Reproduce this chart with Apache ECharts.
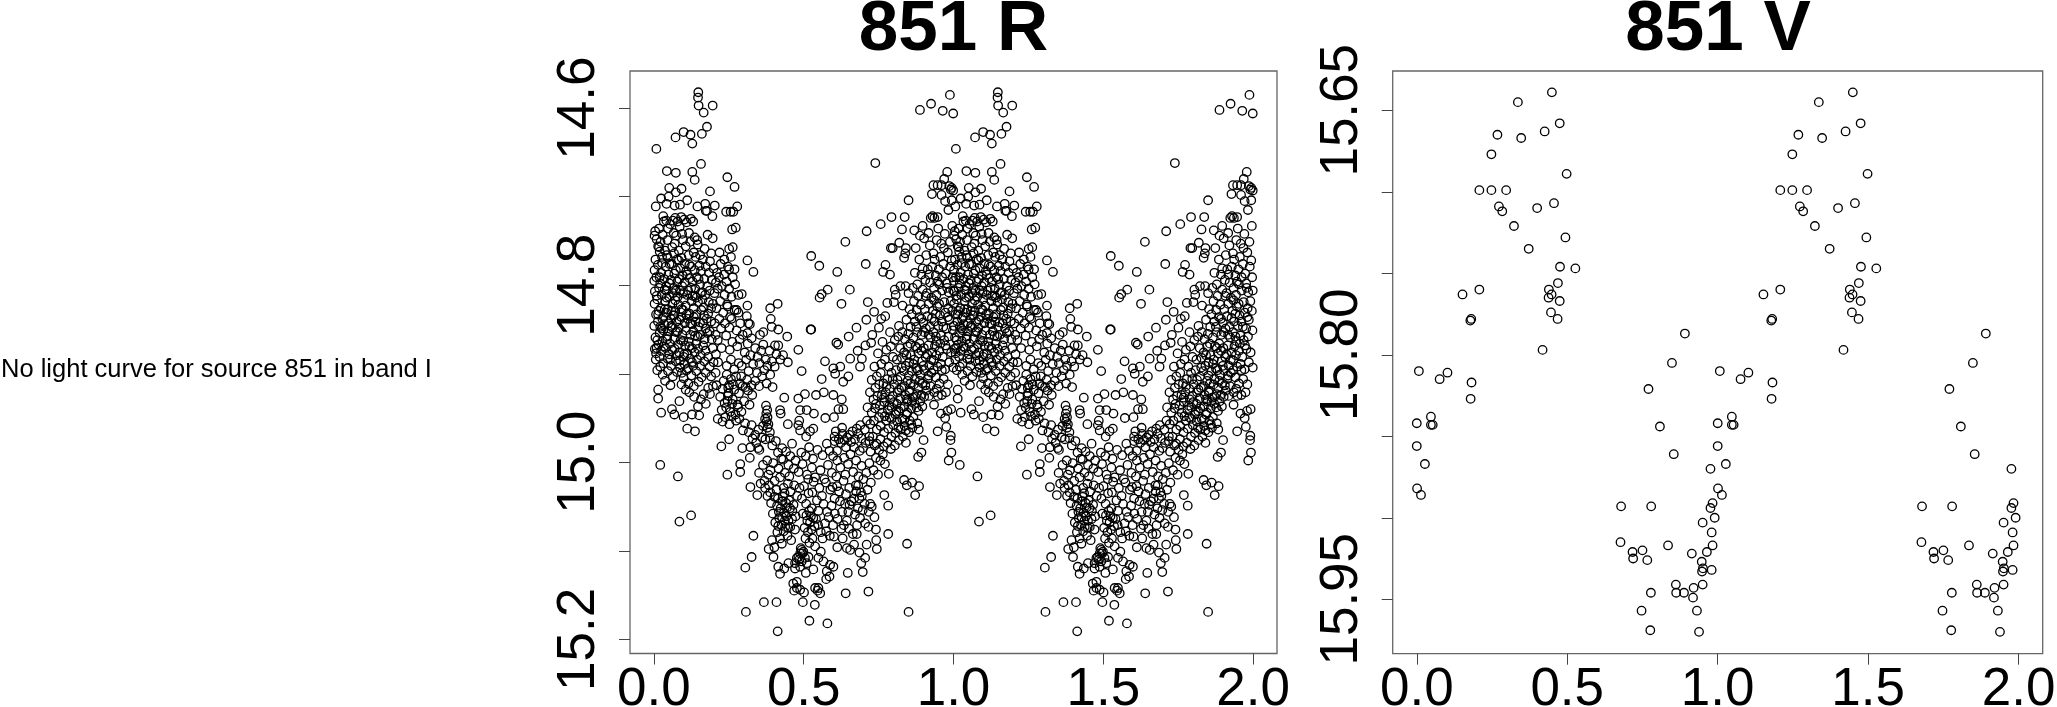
<!DOCTYPE html>
<html><head><meta charset="utf-8">
<style>html,body{margin:0;padding:0;background:#fff}#c{width:2057px;height:707px}</style>
<script src="https://cdn.jsdelivr.net/npm/echarts@6/dist/echarts.min.js"></script>
</head><body><div id="c"></div>
<script>
const noDataNote = "No light curve for source 851 in band I";
const titleR = "851 R";
const titleV = "851 V";
const phaseTicks = [0, 0.5, 1, 1.5, 2];
const rTicks = [14.6, 14.7, 14.8, 14.9, 15.0, 15.1, 15.2];
const rLabels = [14.6, 14.8, 15.0, 15.2];
const vTicks = [15.65, 15.70, 15.75, 15.80, 15.85, 15.90, 15.95];
const vLabels = [15.65, 15.80, 15.95];

// phase, magnitude for one cycle; the plot shows the cycle twice
const vCycle = [[.449,15.639],[.336,15.645],[.475,15.658],[.425,15.663],[.268,15.665],[.347,15.667],[.248,15.677],[.498,15.689],[.208,15.699],[.248,15.699],[.297,15.699],[.456,15.707],[.273,15.709],[.400,15.710],[.284,15.712],[.323,15.721],[.494,15.728],[.372,15.735],[.476,15.746],[.527,15.747],[.469,15.756],[.208,15.760],[.439,15.760],[.152,15.763],[.448,15.763],[.438,15.765],[.475,15.767],[.446,15.774],[.181,15.778],[.178,15.779],[.468,15.778],[.418,15.797],[.007,15.810],[.102,15.811],[.076,15.815],[.182,15.817],[.179,15.827],[.047,15.838],[.000,15.842],[.047,15.843],[.053,15.843],[.000,15.856],[.027,15.867],[.001,15.882],[.014,15.886],
[.891,15.787],[.848,15.805],[.770,15.821],[.808,15.844],[.854,15.861],[.976,15.870],[.679,15.893],[.779,15.893],[.983,15.891],[.976,15.894],[.990,15.900],[.950,15.903],[.980,15.909],[.677,15.915],[.835,15.917],[.750,15.920],[.717,15.921],[.983,15.917],[.964,15.921],[.914,15.922],[.719,15.925],[.766,15.926],[.947,15.927],[.951,15.931],[.948,15.933],[.980,15.932],[.861,15.941],[.950,15.941],[.920,15.943],[.862,15.946],[.888,15.946],[.778,15.946],[.918,15.949],[.747,15.957],[.931,15.957],[.776,15.969],[.938,15.970]];

const rSparse = [[.148,14.582],[.147,14.588],[.149,14.597],[.196,14.597],[.166,14.605],[.177,14.621],[.160,14.629],[.099,14.627],[.122,14.630],[.072,14.633],[.128,14.640],[.008,14.646],[.157,14.663],[.043,14.671],[.073,14.673],[.128,14.672],[.136,14.681],[.245,14.678],[.269,14.689],[.187,14.694],[.092,14.691],[.051,14.690],[.024,14.702],[.073,14.695],[.049,14.700],[.042,14.708],[.006,14.711],[.069,14.710],[.087,14.709],[.111,14.704],[.145,14.711],[.171,14.708],[.203,14.710],[.278,14.711],[.173,14.716],[.177,14.716],[.195,14.722],[.241,14.717],[.256,14.717],[.265,14.717],[.261,14.737],[.273,14.735],[.312,14.772],[.332,14.785],
[.988,14.585],[.925,14.595],[.888,14.602],[.964,14.603],[.999,14.606],[.739,14.662],[.979,14.672],[.969,14.680],[.933,14.687],[.947,14.687],[.960,14.687],[.986,14.688],[.994,14.690],[.999,14.693],[.991,14.692],[.928,14.697],[.960,14.698],[.972,14.705],[.994,14.704],[.850,14.704],[.983,14.715],[.793,14.723],[.837,14.723],[.930,14.722],[.936,14.724],[.924,14.724],[.947,14.723],[.757,14.731],[.828,14.737],[.710,14.739],[.869,14.738],[.897,14.733],[.888,14.744],[.639,14.751],[.819,14.752],[.791,14.758],[.797,14.758],[.841,14.758],[.839,14.764],[.835,14.769],[.874,14.758],[.525,14.767],[.552,14.778],[.612,14.785],[.707,14.776],[.773,14.777],[.765,14.785],[.788,14.788],[.580,14.805],[.560,14.810],[.553,14.814],[.654,14.805],[.626,14.821],[.714,14.819],[.735,14.830],[.779,14.820],[.801,14.819],[.804,14.805],[.807,14.811],[.823,14.801],[.840,14.801],[.850,14.809],[.830,14.823],[.709,14.839],[.759,14.838],[.676,14.848],[.751,14.848],[.525,14.850],[.650,14.858],[.729,14.856],[.772,14.835],[.609,14.865],[.615,14.867],[.725,14.865],[.706,14.868],[.680,14.874],
[.413,14.821],[.388,14.826],[.390,14.838],[.393,14.847],[.415,14.850],[.445,14.858],[.365,14.853],[.354,14.856],[.523,14.850],[.482,14.873],[.404,14.868],[.415,14.868],[.365,14.867],[.326,14.860],[.315,14.843],[.320,14.844],[.310,14.835],[.312,14.823],[.276,14.828],[.282,14.831],[.293,14.810],[.282,14.811],[.271,14.799],
[.493,14.897],[.571,14.886],[.560,14.906],[.599,14.894],[.622,14.892],[.605,14.900],[.688,14.892],[.694,14.883],[.655,14.883],[.649,14.903],[.632,14.909],[.482,14.928],[.504,14.923],[.541,14.924],[.567,14.921],[.599,14.924],[.627,14.929],[.396,14.915],[.435,14.927],[.421,14.941],[.423,14.945],[.447,14.957],[.488,14.941],[.510,14.941],[.534,14.945],[.485,14.953],[.482,14.958],[.488,14.964],[.572,14.950],[.601,14.949],[.616,14.940],[.632,14.940],[.532,14.962],[.521,14.965],[.508,14.971],[.628,14.961],[.607,14.965],
[.021,15.003],[.080,15.016],[.085,15.067],[.124,15.060],[.332,15.083],[.326,15.107],[.305,15.119],[.307,15.169],[.367,15.158],[.409,15.158],[.413,15.191],[.519,15.179],[.579,15.182],[.497,15.158],[.537,15.161],[.640,15.148],[.716,15.146],[.850,15.169],[.845,15.092],[.782,15.081],[.782,15.049],[.769,15.037],[.872,15.037],[.835,15.020],[.844,15.026],[.862,15.023],[.885,15.027],[.784,15.013],[.882,14.994],[.893,14.989],[.900,14.975],[.947,14.965],[.245,15.014],[.288,15.011],[.288,15.002],[.322,15.028],[.345,15.037],[.225,14.982],[.251,14.974],[.295,14.984],[.322,14.983],[.352,14.986],[.320,14.995],[.111,14.962],[.137,14.965],[.024,14.944],[.068,14.946],[.099,14.949],[.127,14.946],[.060,14.940],[.014,14.918],[.014,14.928],[.085,14.931],[.092,14.912],[.099,14.905],
[.976,14.960],[.991,14.970],[.990,14.975],[.993,14.989],[.984,14.998],[.992,14.940],[.980,14.942],[.972,14.950],[.958,14.945],[.935,14.935],[.918,14.925],[.948,14.925]];

const rBottom = [[.493,15.099],[.488,15.103],[.499,15.101],[.482,15.107],[.504,15.108],[.477,15.108],[.493,15.112],[.510,15.114],[.471,15.114],[.488,15.118],[.516,15.107],[.538,15.095],[.557,15.101],[.549,15.108],[.566,15.112],[.588,15.116],[.599,15.118],[.577,15.123],[.586,15.129],[.575,15.132],[.532,15.121],[.507,15.125],[.471,15.120],[.449,15.114],[.435,15.120],[.415,15.118],[.421,15.126],[.399,15.107],[.383,15.098],[.402,15.096],[.465,15.137],[.477,15.135],[.477,15.142],[.468,15.145],[.488,15.144],[.501,15.147],[.538,15.142],[.549,15.142],[.555,15.148],[.546,15.145],[.647,15.125],[.697,15.124],[.692,15.114],[.705,15.108],[.686,15.102],[.655,15.099],[.644,15.097],[.612,15.096],[.630,15.086],[.668,15.093],[.710,15.093],[.742,15.088],[.744,15.098],[.741,15.076],[.677,15.081],[.664,15.081],[.705,15.069],[.716,15.073],[.736,15.062],[.727,15.050],[.722,15.047],[.496,15.103],[.490,15.097],[.485,15.110]];

const rValley = [[.403,15.021],[.421,15.017],[.433,15.029],[.447,15.024],[.388,15.034],[.409,15.031],[.414,15.041],[.436,15.035],[.441,15.046],[.456,15.033],[.468,15.026],[.391,15.046],[.402,15.039],[.423,15.052],[.429,15.044],[.451,15.043],[.462,15.055],[.478,15.038],[.486,15.029],[.397,15.058],[.411,15.049],[.418,15.063],[.434,15.057],[.444,15.051],[.449,15.066],[.466,15.048],[.473,15.061],[.405,15.068],[.426,15.071],[.437,15.066],[.455,15.073],[.461,15.064],[.471,15.076],[.412,15.079],[.421,15.086],[.433,15.078],[.446,15.083],[.458,15.088],[.394,15.088],[.427,15.092],[.438,15.073],[.442,15.061],[.417,15.056],[.431,15.039],[.454,15.052],[.428,15.062],[.448,15.074],[.415,15.072],
[.501,15.027],[.515,15.019],[.529,15.034],[.533,15.022],[.552,15.029],[.561,15.038],[.574,15.023],[.589,15.031],[.603,15.041],[.611,15.027],[.494,15.041],[.508,15.047],[.516,15.035],[.527,15.052],[.544,15.043],[.549,15.055],[.566,15.047],[.578,15.056],[.593,15.049],[.604,15.058],[.621,15.044],[.628,15.056],[.497,15.058],[.512,15.066],[.524,15.061],[.536,15.072],[.541,15.064],[.557,15.079],[.571,15.069],[.583,15.062],[.598,15.071],[.613,15.064],[.626,15.075],[.503,15.074],[.514,15.079],[.521,15.068],[.529,15.086],[.548,15.071],[.563,15.086],[.587,15.083],[.506,15.086],[.519,15.091],[.601,15.084],[.575,15.078],[.509,15.060],[.518,15.055],[.532,15.063],[.526,15.076],
[.596,15.028],[.618,15.033],[.633,15.021],[.641,15.036],[.652,15.029],[.668,15.041],[.674,15.026],[.691,15.034],[.699,15.019],[.713,15.031],[.724,15.023],[.638,15.047],[.649,15.056],[.659,15.044],[.681,15.052],[.686,15.041],[.703,15.047],[.717,15.056],[.644,15.066],[.653,15.048],[.671,15.059],[.688,15.063],[.697,15.054],[.651,15.075],[.678,15.071],[.634,15.071],[.694,15.038],[.675,15.033],[.682,15.026],
[.364,15.003],[.378,14.998],[.389,15.009],[.398,15.001],[.416,15.007],[.425,14.996],[.437,15.012],[.449,15.003],[.452,15.016],[.467,15.007],[.483,15.011],[.496,15.002],[.511,15.014],[.527,15.006],[.538,15.017],[.556,15.009],[.569,15.019],[.581,15.003],[.594,15.012],[.609,15.016],[.622,15.006],[.639,15.014],[.648,15.002],[.665,15.011],[.683,15.016],[.693,15.004],[.709,15.012],[.719,15.001],[.733,15.009],[.748,15.014],[.756,14.998],[.771,15.002],[.351,15.012],[.369,15.021],[.382,15.014],[.371,15.029],[.379,15.038],[.384,15.026],[.356,15.024],
[.387,14.973],[.395,14.981],[.407,14.976],[.414,14.989],[.428,14.984],[.431,14.997],[.441,14.988],[.455,14.993],[.461,14.979],[.473,14.998],[.492,14.989],[.507,14.993],[.518,14.983],[.531,14.996],[.546,14.986],[.563,14.992],[.577,14.979],[.586,14.987],[.603,14.976],[.611,14.987],[.624,14.978],[.629,14.968],[.641,14.983],[.645,14.972],[.658,14.977],[.663,14.965],[.671,14.974],[.682,14.968],[.689,14.958],[.693,14.973],[.704,14.963],[.711,14.953],[.603,14.971],[.617,14.974],[.636,14.975],[.652,14.969],[.668,14.983],[.677,14.962],[.698,14.984],[.706,14.978],[.719,14.971],[.723,14.988],[.737,14.981],[.741,14.995],[.752,14.986],[.764,14.991],[.598,14.993],[.612,14.998],[.635,14.995],[.656,14.991],[.675,14.998],[.687,14.987],
[.374,14.936],[.378,14.941],[.375,14.945],[.379,14.949],[.376,14.954],[.382,14.957],[.379,14.961],[.387,14.966],[.371,14.951],[.364,14.959],[.349,14.963],[.338,14.969],[.326,14.958],[.317,14.966],[.329,14.973],[.341,14.978],[.361,14.972],[.372,14.974],[.348,14.984],[.304,14.956],[.297,14.964]];

const rRidge = [[.221,14.926],[.229,14.917],[.236,14.933],[.247,14.925],[.251,14.913],[.263,14.929],[.268,14.918],[.279,14.935],[.284,14.922],[.296,14.914],[.301,14.931],[.314,14.919],[.319,14.935],[.328,14.924],[.233,14.908],[.243,14.901],[.248,14.916],[.257,14.906],[.264,14.912],[.274,14.903],[.287,14.911],[.291,14.903],[.306,14.915],[.241,14.938],[.246,14.931],[.255,14.943],[.261,14.934],[.272,14.946],[.281,14.938],[.292,14.943],[.226,14.941],[.213,14.951],[.229,14.954],[.238,14.949],[.252,14.957],[.259,14.948],[.274,14.953],[.285,14.951],[.249,14.922],[.243,14.891],[.257,14.884],[.268,14.895],[.283,14.888],[.293,14.891],[.308,14.884],[.316,14.897],[.331,14.889],[.344,14.899],[.352,14.888],[.368,14.896],[.379,14.891],[.388,14.901],[.403,14.892],[.338,14.908],[.351,14.914],[.361,14.903],[.376,14.911],[.311,14.907],[.326,14.913],[.214,14.887],[.206,14.899],[.191,14.903],[.181,14.916],[.166,14.923],[.157,14.929],[.147,14.937],[.134,14.926],[.118,14.921],[.173,14.934],[.187,14.923],[.151,14.947],[.197,14.914],[.209,14.913],[.106,14.918],
[.213,14.862],[.226,14.871],[.241,14.857],[.253,14.873],[.262,14.864],[.278,14.869],[.286,14.861],[.303,14.876],[.313,14.866],[.322,14.879],[.338,14.871],[.346,14.881],[.358,14.874],[.373,14.884],[.386,14.874],[.394,14.886],[.409,14.878],[.422,14.884],[.431,14.879],[.447,14.887],[.224,14.849],[.237,14.843],[.252,14.848],[.259,14.838],[.276,14.851],[.288,14.843],[.296,14.856],[.312,14.854],[.231,14.831],[.246,14.824],[.254,14.836],[.269,14.828],[.221,14.818],[.236,14.811],[.244,14.822],[.259,14.813],[.227,14.801],[.242,14.796],[.251,14.804],[.263,14.791],[.234,14.788],[.223,14.776],[.247,14.779],[.257,14.768],[.269,14.782],[.251,14.759],[.263,14.757],[.235,14.771]];

const rLeftBlob = [[.004,14.739],[.002,14.744],[.009,14.748],[.031,14.722],[.033,14.728],[.041,14.727],[.017,14.736],[.029,14.743],[.047,14.736],[.054,14.731],[.063,14.727],[.071,14.724],[.079,14.728],[.091,14.723],[.101,14.726],[.109,14.729],[.123,14.725],[.131,14.728],[.066,14.741],[.074,14.744],[.086,14.734],[.094,14.742],[.117,14.741],[.136,14.746],[.144,14.749],[.179,14.743],[.196,14.747],[.169,14.759],[.191,14.764],[.219,14.763],[.251,14.782],
[.014,14.756],[.022,14.751],[.037,14.761],[.045,14.749],[.061,14.757],[.069,14.753],[.083,14.761],[.097,14.749],[.106,14.756],[.121,14.751],[.133,14.763],[.146,14.754],[.154,14.766],[.005,14.771],[.019,14.762],[.027,14.768],[.043,14.766],[.052,14.776],[.067,14.764],[.077,14.771],[.092,14.769],[.103,14.776],[.116,14.766],[.124,14.779],[.139,14.768],[.152,14.778],[.163,14.771],[.173,14.779],[.187,14.773],[.199,14.781],[.211,14.786],[.002,14.783],[.013,14.777],[.024,14.786],[.039,14.779],[.048,14.788],[.059,14.776],[.073,14.783],[.088,14.781],[.096,14.789],[.108,14.784],[.119,14.792],[.136,14.783],[.143,14.791],[.157,14.784],[.168,14.793],[.184,14.786],[.193,14.794],[.207,14.797],[.217,14.791],
[.001,14.795],[.008,14.791],[.021,14.798],[.034,14.793],[.041,14.801],[.057,14.794],[.066,14.803],[.078,14.796],[.094,14.801],[.102,14.797],[.114,14.806],[.129,14.796],[.138,14.804],[.154,14.799],[.161,14.808],[.178,14.801],[.186,14.806],[.202,14.809],[.213,14.804],[.003,14.807],[.017,14.803],[.026,14.811],[.042,14.806],[.051,14.813],[.063,14.809],[.079,14.813],[.087,14.806],[.099,14.816],[.111,14.811],[.126,14.818],[.137,14.812],[.147,14.819],[.162,14.816],[.171,14.811],[.183,14.819],[.197,14.821],[.209,14.826],
[.002,14.821],[.011,14.816],[.023,14.826],[.038,14.818],[.046,14.827],[.062,14.821],[.071,14.829],[.082,14.822],[.097,14.828],[.106,14.823],[.118,14.832],[.133,14.826],[.142,14.833],[.158,14.828],[.167,14.834],[.181,14.832],[.007,14.833],[.016,14.829],[.032,14.836],[.041,14.831],[.056,14.838],[.068,14.834],[.076,14.841],[.091,14.836],[.103,14.843],[.113,14.838],[.127,14.844],[.139,14.841],[.149,14.847],[.164,14.843],[.172,14.849],[.191,14.841],[.203,14.843],[.218,14.838],
[.001,14.846],[.013,14.841],[.026,14.849],[.034,14.844],[.049,14.852],[.058,14.846],[.073,14.853],[.083,14.848],[.095,14.856],[.107,14.851],[.122,14.856],[.131,14.852],[.146,14.858],[.155,14.856],[.169,14.861],[.178,14.854],[.193,14.861],[.206,14.856],[.005,14.859],[.019,14.854],[.028,14.863],[.044,14.858],[.053,14.866],[.067,14.861],[.081,14.867],[.089,14.862],[.104,14.868],[.116,14.864],[.127,14.871],[.141,14.866],
[.003,14.872],[.015,14.867],[.024,14.874],[.039,14.871],[.051,14.878],[.061,14.873],[.076,14.879],[.084,14.876],[.099,14.881],[.112,14.877],[.121,14.883],[.136,14.876],[.148,14.872],[.156,14.879],[.172,14.874],[.181,14.881],[.196,14.871],[.207,14.878],[.006,14.884],[.019,14.881],[.031,14.888],[.046,14.883],[.057,14.891],[.073,14.886],[.087,14.893],[.102,14.889],[.113,14.894],[.127,14.887],[.144,14.884],[.154,14.891],[.168,14.886],[.186,14.892],[.199,14.887],[.011,14.896],[.029,14.901],[.047,14.897],[.063,14.903],[.077,14.898],[.093,14.899],[.109,14.896],[.125,14.902],[.141,14.897],[.159,14.904],[.173,14.899],[.037,14.908],[.055,14.913],[.115,14.911],[.133,14.914],[.149,14.909]];

const rLeftCore = [[.058,14.829],[.064,14.834],[.071,14.817],[.048,14.843],[.085,14.839],[.078,14.852],[.062,14.848],[.036,14.827],[.028,14.838],[.092,14.827],[.109,14.833],[.044,14.861],[.031,14.851],[.014,14.833],[.121,14.843],[.098,14.863],[.133,14.836],[.019,14.791],[.036,14.805],[.009,14.812],[.052,14.798],[.027,14.775],[.068,14.787],[.084,14.793],[.111,14.788],[.097,14.809],[.124,14.803],[.149,14.793],[.142,14.814],[.166,14.825],[.154,14.842],[.137,14.857],[.118,14.869],[.101,14.878],[.069,14.872],[.033,14.869],[.011,14.862],[.007,14.877],[.021,14.892],[.054,14.884],[.087,14.885],[.131,14.891],[.164,14.868],[.186,14.852],[.176,14.838],[.191,14.826],[.118,14.777],[.083,14.772],[.046,14.769],[.017,14.757],[.156,14.809],[.129,14.812],[.074,14.806],[.042,14.814],[.021,14.847],[.009,14.871]];

const rRightBlob = [[.902,14.747],[.917,14.741],[.921,14.755],[.944,14.749],[.949,14.736],[.968,14.758],[.971,14.742],[.988,14.751],[.996,14.733],[.933,14.764],[.937,14.771],[.956,14.768],[.959,14.753],[.981,14.763],[.994,14.772],[.909,14.766],[.914,14.782],[.929,14.779],[.941,14.789],[.966,14.776],[.974,14.787],[.989,14.779],[.997,14.791],[.886,14.771],[.893,14.788],[.906,14.794],[.922,14.797],[.935,14.803],[.951,14.782],[.953,14.799],[.977,14.798],[.984,14.808],[.999,14.806],[.871,14.786],[.879,14.799],[.897,14.805],[.911,14.809],[.926,14.814],[.943,14.811],[.962,14.806],[.969,14.819],[.991,14.818],
[.864,14.803],[.868,14.818],[.882,14.812],[.891,14.822],[.904,14.827],[.917,14.821],[.931,14.829],[.946,14.824],[.955,14.834],[.973,14.831],[.982,14.826],[.996,14.829],[.853,14.827],[.861,14.833],[.877,14.828],[.886,14.836],[.899,14.842],[.913,14.835],[.921,14.847],[.937,14.841],[.949,14.846],[.961,14.841],[.977,14.849],[.986,14.839],[.843,14.839],[.857,14.847],[.871,14.841],[.879,14.853],[.894,14.856],[.908,14.849],[.924,14.859],[.933,14.853],[.944,14.863],[.958,14.857],[.969,14.862],[.983,14.858],[.998,14.851],
[.818,14.846],[.829,14.853],[.838,14.861],[.849,14.855],[.866,14.859],[.873,14.869],[.887,14.866],[.901,14.871],[.916,14.868],[.929,14.876],[.938,14.869],[.953,14.874],[.964,14.881],[.978,14.872],[.992,14.876],[.788,14.853],[.804,14.862],[.816,14.858],[.822,14.871],[.835,14.876],[.847,14.869],[.858,14.879],[.869,14.884],[.883,14.877],[.895,14.886],[.907,14.881],[.919,14.891],[.934,14.885],[.947,14.892],[.958,14.889],[.972,14.895],[.986,14.887],[.999,14.893],
[.763,14.864],[.776,14.873],[.791,14.869],[.798,14.881],[.811,14.884],[.828,14.882],[.841,14.891],[.852,14.887],[.861,14.897],[.876,14.894],[.889,14.901],[.903,14.896],[.914,14.906],[.926,14.899],[.941,14.904],[.953,14.911],[.967,14.906],[.981,14.912],[.748,14.877],[.759,14.889],[.771,14.884],[.784,14.892],[.793,14.899],[.808,14.896],[.823,14.903],[.834,14.897],[.847,14.908],[.856,14.911],[.871,14.906],[.884,14.916],[.897,14.911],[.909,14.919],[.923,14.914],[.936,14.921],[.944,14.917],[.961,14.924],[.975,14.921],
[.736,14.892],[.744,14.903],[.757,14.899],[.766,14.911],[.779,14.906],[.787,14.917],[.802,14.912],[.813,14.921],[.826,14.916],[.839,14.924],[.852,14.921],[.864,14.927],[.878,14.923],[.889,14.931],[.902,14.926],[.727,14.907],[.739,14.916],[.752,14.912],[.761,14.924],[.774,14.921],[.789,14.929],[.797,14.925],[.811,14.934],[.822,14.928],[.836,14.937],[.847,14.931],[.859,14.939],[.871,14.934],[.883,14.942],[.896,14.937],[.721,14.921],[.733,14.929],[.746,14.925],[.754,14.936],[.769,14.932],[.781,14.941],[.794,14.938],[.806,14.946],[.817,14.942],[.829,14.951],[.843,14.946],[.854,14.953],[.866,14.949],[.879,14.956],[.713,14.938],[.727,14.944],[.738,14.939],[.751,14.949],[.762,14.944],[.776,14.953],[.787,14.949],[.799,14.958],[.812,14.954],[.824,14.963],[.837,14.959],[.851,14.966],[.863,14.961],[.884,14.963],[.722,14.957],[.734,14.953],[.744,14.963],[.757,14.959],[.768,14.966],[.782,14.962],[.793,14.971],[.806,14.967],[.818,14.975],[.831,14.971],[.841,14.978],[.719,14.976],[.731,14.971],[.743,14.979],[.756,14.974],[.767,14.982],[.779,14.978],[.791,14.985],[.804,14.981]];

const rRightCore = [[.897,14.781],[.918,14.788],[.946,14.796],[.962,14.791],[.979,14.803],[.907,14.812],[.935,14.817],[.952,14.821],[.893,14.838],[.928,14.837],[.941,14.832],[.966,14.847],[.981,14.836],[.876,14.847],[.902,14.853],[.917,14.856],[.941,14.858],[.956,14.866],[.973,14.868],[.856,14.866],[.879,14.871],[.893,14.874],[.912,14.878],[.926,14.884],[.943,14.879],[.961,14.896],[.843,14.879],[.866,14.889],[.881,14.896],[.899,14.891],[.917,14.902],[.934,14.896],[.827,14.893],[.851,14.902],[.868,14.912],[.887,14.908],[.906,14.913],[.813,14.907],[.836,14.914],[.853,14.919],[.872,14.926],[.893,14.924],[.797,14.906],[.818,14.918],[.843,14.929],[.861,14.932],[.877,14.938],[.776,14.914],[.801,14.932],[.824,14.939],[.846,14.944],[.768,14.927],[.786,14.936],[.809,14.943],[.836,14.952],[.859,14.957],[.741,14.934],[.771,14.948],[.793,14.951],[.816,14.961],[.841,14.964]];

const rCycle = [...rSparse, ...rBottom, ...rValley, ...rRidge, ...rLeftBlob, ...rLeftCore, ...rRightBlob, ...rRightCore];
const twoCycles = (pts) => pts.concat(pts.map(p => [p[0] + 1, p[1]]));

const fontName = '"Liberation Sans", Arial, sans-serif';
const sharedX = (gridIndex) => ({
  type: 'value', gridIndex, min: -0.08, max: 2.08,
  splitLine: {show: false}, axisLine: {show: false, onZero: false},
  axisTick: {show: true, length: 11, lineStyle: {color: '#444', width: 1}, customValues: phaseTicks},
  axisLabel: {show: true, customValues: phaseTicks, margin: 10, fontSize: 53, fontFamily: fontName, color: '#000',
    formatter: v => v.toFixed(1), showMinLabel: true, showMaxLabel: true, hideOverlap: false}
});
const sharedY = (gridIndex, min, max, ticks, labels, digits) => ({
  type: 'value', gridIndex, inverse: true, min, max,
  splitLine: {show: false}, axisLine: {show: false, onZero: false},
  axisTick: {show: true, length: 11, lineStyle: {color: '#444', width: 1}, customValues: ticks},
  axisLabel: {show: true, customValues: labels, rotate: 90, margin: 24, fontSize: 53, fontFamily: fontName, color: '#000',
    align: 'center', verticalAlign: 'bottom', formatter: v => v.toFixed(digits), hideOverlap: false}
});
const ring = {color: 'rgba(0,0,0,0)', borderColor: '#000', borderWidth: 1.3, opacity: 1};
const panelBorder = {show: true, borderColor: '#666', borderWidth: 1.3, backgroundColor: '#fff', containLabel: false, outerBoundsMode: 'none'};

const chart = echarts.init(document.getElementById('c'), null, {renderer: 'canvas'});
chart.setOption({
  animation: false,
  backgroundColor: '#fff',
  title: [
    {text: titleR, left: 953.5, top: -5, textAlign: 'center', padding: 0, textStyle: {fontSize: 71, fontWeight: 'bold', fontFamily: fontName, color: '#000'}},
    {text: titleV, left: 1718, top: -5, textAlign: 'center', padding: 0, textStyle: {fontSize: 71, fontWeight: 'bold', fontFamily: fontName, color: '#000'}},
    {text: noDataNote, left: 1, top: 356.5, padding: 0, textStyle: {fontSize: 25.5, fontWeight: 'normal', fontFamily: fontName, color: '#000'}}
  ],
  grid: [
    Object.assign({left: 630, top: 71, width: 647, height: 582.5}, panelBorder),
    Object.assign({left: 1392.7, top: 71, width: 650, height: 582.7}, panelBorder)
  ],
  xAxis: [sharedX(0), sharedX(1)],
  yAxis: [
    sharedY(0, 14.558, 15.216, rTicks, rLabels, 1),
    sharedY(1, 15.6259, 15.9834, vTicks, vLabels, 2)
  ],
  series: [
    {type: 'scatter', xAxisIndex: 0, yAxisIndex: 0, symbol: 'circle', symbolSize: 8.5, itemStyle: ring, silent: true, large: false, data: twoCycles(rCycle)},
    {type: 'scatter', xAxisIndex: 1, yAxisIndex: 1, symbol: 'circle', symbolSize: 8.5, itemStyle: ring, silent: true, large: false, data: twoCycles(vCycle)}
  ]
});
</script></body></html>
